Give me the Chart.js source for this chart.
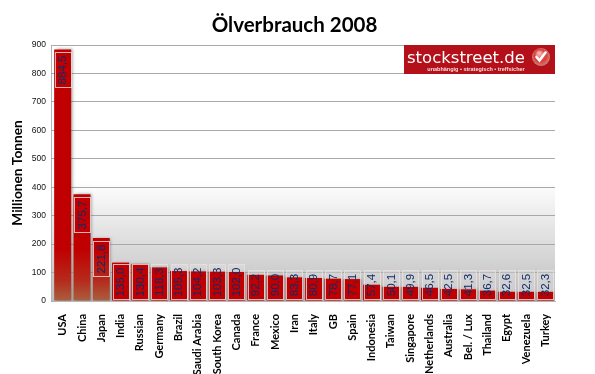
<!DOCTYPE html>
<html><head><meta charset="utf-8">
<script src="https://cdn.jsdelivr.net/npm/chart.js@4"></script>
<style>html,body{margin:0;padding:0;background:#fff}#w{width:595px;height:374px;position:relative}</style>
</head><body><div id="w"><canvas id="c" width="595" height="374"></canvas></div>
<script>
const categories=["USA","China","Japan","India","Russian","Germany","Brazil","Saudi Arabia","South Korea","Canada","France","Mexico","Iran","Italy","GB","Spain","Indonesia","Taiwan","Singapore","Netherlands","Australia","Bel. / Lux","Thailand","Egypt","Venezuela","Turkey"];
const values=[884.5,375.7,221.8,135.0,130.4,118.3,105.3,104.2,103.3,102.0,92.2,90.0,83.3,80.9,78.7,77.1,57.4,50.1,49.9,46.5,42.5,41.3,36.7,32.6,32.5,32.3];
const yTicks=[0,100,200,300,400,500,600,700,800,900];
const titleText="Ölverbrauch 2008";
const yTitle="Millionen Tonnen";
const logoText="stockstreet.de";
const logoSub="unabhängig • strategisch • treffsicher";

const backdrop={id:'backdrop',
afterLayout(ch){ch.titleBlock.left+=12.5;ch.titleBlock.right+=12.5;},
beforeDraw(ch){
  const {ctx,chartArea:a}=ch;const g=ctx.createLinearGradient(0,a.top,0,a.bottom);
  g.addColorStop(0,'#ffffff');g.addColorStop(0.53,'#ffffff');g.addColorStop(1,'#bdbdbd');
  ctx.save();ctx.fillStyle=g;ctx.fillRect(a.left-2,a.top,a.right-a.left+2,a.bottom-a.top);
  ctx.strokeStyle='#b5b5b5';ctx.lineWidth=1;ctx.beginPath();ctx.moveTo(a.left-1.5,a.top);ctx.lineTo(a.left-1.5,a.bottom);ctx.stroke();
  ctx.restore();
},
beforeDatasetDraw(ch){const c=ch.ctx;c.shadowColor='rgba(90,90,90,.55)';c.shadowBlur=3;c.shadowOffsetX=1.5;c.shadowOffsetY=0;},
afterDatasetDraw(ch){const c=ch.ctx;c.shadowColor='transparent';c.shadowBlur=0;c.shadowOffsetX=0;}
};
const boxes={id:'boxes',afterDatasetsDraw(ch){
  const {ctx}=ch;const bars=ch.getDatasetMeta(0).data;const base=ch.scales.y.getPixelForValue(0);
  ctx.save();
  bars.forEach((b,i)=>{
    const t=values[i].toFixed(1).replace('.',',');
    const h=t.length>=5?35:29;const w=16;
    const top=Math.min(b.y+3,base-2-h);
    const x=Math.round(b.x-w/2)+.5,y=Math.round(top)+.5;
    if(y<b.y){ctx.fillStyle='rgba(235,235,235,.28)';ctx.fillRect(x,y,w,b.y-y);}
    ctx.strokeStyle='rgba(235,225,225,.8)';ctx.lineWidth=1;ctx.strokeRect(x,y,w,h);
    ctx.save();ctx.translate(b.x,y+h/2);ctx.rotate(-Math.PI/2);
    ctx.font='11.5px "Liberation Sans Narrow","Liberation Sans"';ctx.fillStyle='#0f2a6a';ctx.textAlign='center';ctx.textBaseline='middle';
    ctx.fillText(t,0,0.5);ctx.restore();
  });
  ctx.restore();
}};
const logo={id:'logo',afterDraw(ch){
  const {ctx,chartArea:a}=ch;const x=a.right-151,y=a.top,w=151,h=29;
  ctx.save();ctx.fillStyle='#b3101a';ctx.fillRect(x,y,w,h);
  ctx.fillStyle='#fff';ctx.textBaseline='alphabetic';ctx.textAlign='left';
  ctx.font='16.5px "DejaVu Sans"';ctx.fillText(logoText,x+3,y+18);
  ctx.font='bold 5.5px "Liberation Sans"';ctx.fillStyle='#f3dcdc';ctx.textAlign='center';ctx.fillText(logoSub,x+72,y+26);
  const cx=a.right-14,cy=y+12;const g=ctx.createRadialGradient(cx-2,cy-4,1,cx,cy,9);
  g.addColorStop(0,'#f6b5b0');g.addColorStop(.6,'#dc3a35');g.addColorStop(1,'#c9827e');
  ctx.fillStyle=g;ctx.beginPath();ctx.arc(cx,cy,9,0,Math.PI*2);ctx.fill();
  ctx.strokeStyle='#fff';ctx.lineWidth=2.6;ctx.lineCap='round';ctx.beginPath();ctx.moveTo(cx-4.5,cy);ctx.lineTo(cx-1.5,cy+3.5);ctx.lineTo(cx+4.5,cy-4.5);ctx.stroke();
  ctx.restore();
}};
new Chart(document.getElementById('c'),{
  type:'bar',
  data:{labels:categories,datasets:[{data:values,barPercentage:.88,categoryPercentage:1,
    backgroundColor(c){
      const ch=c.chart;if(!ch.chartArea||c.dataIndex>2)return '#c00000';
      const g=ch.ctx.createLinearGradient(0,ch.chartArea.top,0,ch.chartArea.bottom);
      g.addColorStop(0,'#c00000');g.addColorStop(.8,'#c00000');g.addColorStop(.92,'#b52a1c');g.addColorStop(1,'#a8613f');return g;
    }}]},
  options:{responsive:false,animation:false,
    layout:{padding:{left:9,right:40,top:0,bottom:0}},
    plugins:{legend:{display:false},tooltip:{enabled:false},
      title:{display:true,text:titleText,color:'#000',font:{family:'Lato',weight:'bold',size:20.5},padding:{top:13.4,bottom:7}}},
    scales:{
      x:{grid:{display:false},border:{color:'#b5b5b5'},
        afterFit(s){s.height=73},
        ticks:{minRotation:90,maxRotation:90,autoSkip:false,padding:5,color:'#000',font:{family:'Lato',weight:'bold',size:11}}},
      y:{min:0,max:900,
        afterFit(s){s.width=44},
        afterBuildTicks(s){s.ticks=yTicks.map(v=>({value:v}))},
        title:{display:true,text:yTitle,color:'#000',font:{family:'Lato',weight:'bold',size:13.7},padding:0},
        grid:{color:'#a9a9a9',tickLength:2,lineWidth:1},border:{display:false},
        ticks:{color:'#111',padding:5,font:{family:'Liberation Sans',size:8.5}}}
    }
  },
  plugins:[backdrop,boxes,logo]
});
</script></body></html>
